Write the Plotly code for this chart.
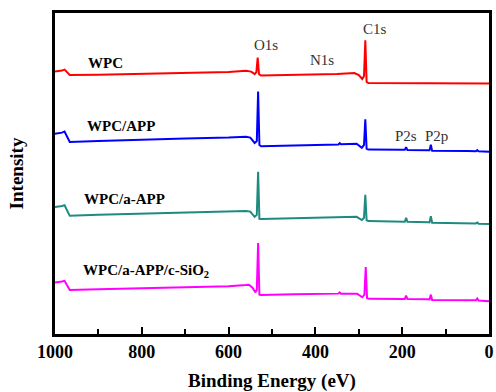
import plotly.graph_objects as go

# ---- data (binding energy in eV, intensity in arbitrary units, stacked) ----
wpc_e = [1000, 990, 984, 978, 972, 966, 900, 800, 700, 600, 560, 548, 540, 536, 533, 530, 526,
         450, 400, 350, 310, 300, 292, 288, 285, 282, 278, 200, 100, 0]
wpc_i = [266.5, 266.8, 267.5, 268.5, 266.0, 263.0, 263.3, 264.0, 265.0, 266.0, 267.3, 266.5, 264.0,
         266.0, 280.7, 264.0, 262.5, 263.0, 263.5, 264.0, 265.0, 263.0, 259.0, 262.0, 298.3, 256.0,
         254.8, 254.6, 254.5, 254.3]

app_e = [1000, 990, 984, 978, 972, 966, 900, 800, 700, 600, 560, 550, 540, 535, 532, 529, 525,
         450, 400, 347, 344, 341, 305, 293, 288, 285, 282, 278, 200, 194, 191, 188, 140, 137, 134,
         131, 50, 30, 27, 24, 0]
app_i = [203.3, 203.6, 204.5, 205.7, 200.0, 195.0, 196.0, 197.5, 198.5, 199.5, 200.3, 199.5, 194.0,
         196.0, 246.3, 192.0, 190.7, 191.5, 192.0, 192.5, 193.8, 192.6, 193.3, 189.0, 192.0, 218.0,
         188.0, 187.3, 187.0, 187.0, 189.7, 186.8, 186.5, 186.5, 192.3, 186.0, 185.8, 185.7, 186.8,
         185.5, 185.0]

aapp_e = [1000, 990, 984, 978, 972, 966, 900, 800, 700, 600, 560, 550, 540, 535, 532, 529, 525,
          450, 400, 305, 293, 288, 285, 282, 278, 200, 194, 191, 188, 140, 137, 134, 131, 30, 27,
          24, 0]
aapp_i = [129.0, 129.3, 130.0, 130.7, 125.0, 120.0, 121.0, 122.0, 123.0, 124.0, 125.0, 124.3, 119.0,
          121.0, 164.7, 117.0, 116.7, 117.5, 118.0, 119.0, 115.7, 118.0, 141.3, 115.5, 114.7, 114.2,
          114.0, 118.0, 114.0, 113.5, 113.3, 119.7, 113.0, 112.3, 113.2, 112.0, 111.7]

sio_e = [1000, 990, 984, 978, 972, 966, 900, 800, 700, 600, 560, 553, 545, 538, 535, 532, 529, 525,
         450, 400, 347, 344, 341, 304, 292, 287, 284, 281, 277, 200, 194, 191, 188, 140, 137, 134,
         131, 30, 27, 24, 0]
sio_i = [52.3, 52.6, 53.3, 54.0, 49.0, 44.7, 45.5, 46.5, 47.5, 48.5, 49.7, 50.0, 47.0, 42.3, 45.0,
         92.3, 40.0, 39.7, 40.3, 40.7, 41.0, 42.2, 41.0, 41.0, 37.3, 40.0, 68.0, 36.5, 35.7, 35.6,
         35.6, 39.0, 35.5, 35.2, 35.0, 40.0, 34.5, 34.2, 36.0, 34.0, 33.3]

series_names = ["WPC", "WPC/APP", "WPC/a-APP", "WPC/a-APP/c-SiO<sub>2</sub>"]
series_colors = ["#ff0000", "#0000ff", "#1f8a80", "#ff00ff"]
series_e = [wpc_e, app_e, aapp_e, sio_e]
series_i = [wpc_i, app_i, aapp_i, sio_i]

# label positions (eV, intensity)
label_pos = [(883, 275), (849, 211), (840, 137.3), (791, 64)]

peak_labels = ["O1s", "N1s", "C1s", "P2s", "P2p"]
peak_pos = [(513, 293.5), (385, 278.5), (263, 310), (191, 201), (122, 201)]

x_ticks = [1000, 800, 600, 400, 200, 0]

SERIF = "Liberation Serif, Times New Roman, serif"

fig = go.Figure()
for name, col, e, i in zip(series_names, series_colors, series_e, series_i):
    fig.add_trace(go.Scatter(x=e, y=i, mode="lines", name=name,
                             line=dict(color=col, width=2), showlegend=False))

for name, (x, y) in zip(series_names, label_pos):
    fig.add_annotation(x=x, y=y, text="<b>" + name + "</b>", showarrow=False,
                       font=dict(family=SERIF, size=15, color="black"),
                       xanchor="center", yanchor="middle")

for name, (x, y) in zip(peak_labels, peak_pos):
    fig.add_annotation(x=x, y=y, text=name, showarrow=False,
                       font=dict(family=SERIF, size=15, color="#333333"),
                       xanchor="center", yanchor="middle")

fig.update_layout(
    width=496, height=392,
    margin=dict(l=55, r=2, t=13, b=53),
    plot_bgcolor="white", paper_bgcolor="white",
    xaxis=dict(range=[1000, 0], tickvals=x_ticks, ticktext=[str(t) for t in x_ticks],
               ticks="inside", ticklen=7, tickwidth=2, tickcolor="black",
               minor=dict(dtick=100, ticks="inside", ticklen=5, tickwidth=2, tickcolor="black"),
               showline=True, linecolor="black", linewidth=2.5, mirror=True,
               showgrid=False, zeroline=False,
               tickfont=dict(family=SERIF, size=18, color="black", weight="bold"),
               title=dict(text="Binding Energy (eV)", standoff=14,
                          font=dict(family=SERIF, size=19, color="black", weight="bold"))),
    yaxis=dict(range=[0, 326], showticklabels=False, ticks="",
               showline=True, linecolor="black", linewidth=2.5, mirror=True,
               showgrid=False, zeroline=False,
               title=dict(text="Intensity", standoff=24,
                          font=dict(family=SERIF, size=19, color="black", weight="bold"))),
)

fig.write_html("out.html")
